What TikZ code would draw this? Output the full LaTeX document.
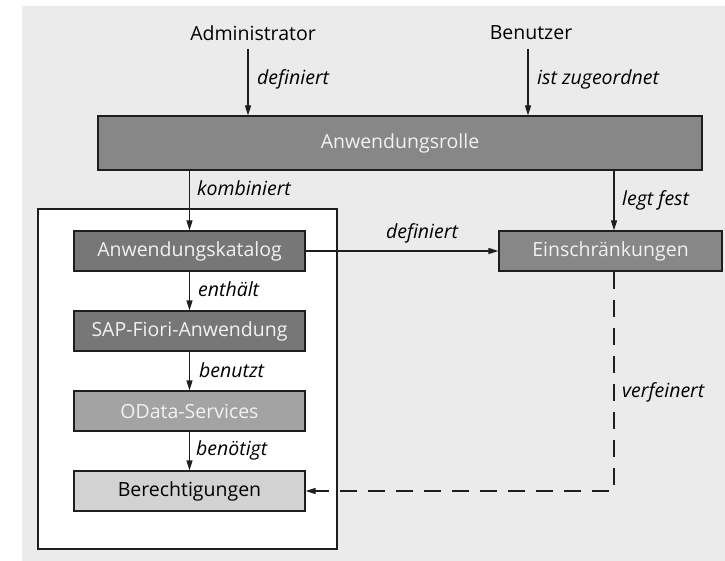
\documentclass[tikz,border=0pt]{standalone}
\usepackage{fontspec}
\setmainfont{Open Sans}
\usetikzlibrary{arrows.meta}
\definecolor{bg}{HTML}{EBEBEB}
\definecolor{boxA}{HTML}{878787}
\definecolor{boxB}{HTML}{777777}
\definecolor{boxC}{HTML}{A3A3A3}
\definecolor{boxD}{HTML}{D2D2D2}
\definecolor{ln}{HTML}{1E1E1E}
\definecolor{ltxt}{HTML}{F2F2F2}
\begin{document}
\begin{tikzpicture}[x=1pt,y=-1pt,
  every node/.style={font=\fontsize{19.5}{22}\selectfont},
  box/.style={draw=ln,line width=1.2pt,inner sep=0pt},
  lbl/.style={font=\fontsize{19.5}{22}\selectfont\itshape,inner sep=0pt,anchor=west},
  arr/.style={draw=ln,line width=1.2pt,-{Triangle[length=10pt,width=6pt]}},
  dsh/.style={arr,dash pattern=on 17pt off 11pt}]
\useasboundingbox (0,0) rectangle (725,561);
\fill[bg] (22,6) rectangle (725,561);
% group box
\node[box,fill=white,minimum width=299pt,minimum height=340pt] (group) at (187.5,379) {};
% boxes
\node[box,fill=boxA,text=ltxt,minimum width=604pt,minimum height=54pt] (rolle) at (400,143) {Anwendungsrolle};
\node[box,fill=boxB,text=ltxt,minimum width=231pt,minimum height=40pt] (katalog) at (189.5,251) {Anwendungskatalog};
\node[box,fill=boxB,text=ltxt,minimum width=231pt,minimum height=40pt] (fiori) at (189.5,331) {SAP-Fiori-Anwendung};
\node[box,fill=boxC,text=ltxt,minimum width=231pt,minimum height=40pt] (odata) at (189.5,411) {OData-Services};
\node[box,fill=boxD,text=black,minimum width=231pt,minimum height=40pt] (berecht) at (189.5,491) {Berechtigungen};
\node[box,fill=boxA,text=ltxt,minimum width=223pt,minimum height=40pt] (einschr) at (610.5,251) {Einschränkungen};
% actors
\node (admin) at (253,33) {Administrator};
\node (benutzer) at (531,33) {Benutzer};
\coordinate (a1) at (248,49);
\coordinate (b1) at (528,49);
\coordinate (lf) at (614,0);
% connectors
\draw[arr] (a1) -- (a1 |- rolle.north);
\draw[arr] (b1) -- (b1 |- rolle.north);
\draw[arr] (katalog.north |- rolle.south) -- (katalog.north);
\draw[arr] (lf |- rolle.south) -- (lf |- einschr.north);
\draw[arr] (katalog.east) -- (einschr.west);
\draw[arr] (katalog.south) -- (fiori.north);
\draw[arr] (fiori.south) -- (odata.north);
\draw[arr] (odata.south) -- (berecht.north);
\draw[dsh] (lf |- einschr.south) |- (berecht.east);
% labels
\node[lbl] (l1) at (257,79) {definiert};
\node[lbl] (l2) at (537,79) {ist zugeordnet};
\node[lbl] (l3) at (197,188) {kombiniert};
\node[lbl] (l4) at (622,200) {legt fest};
\node[lbl,anchor=center] (l5) at (422,233) {definiert};
\node[lbl] (l6) at (198,289) {enthält};
\node[lbl] (l7) at (199,370) {benutzt};
\node[lbl] (l8) at (196,450) {benötigt};
\node[lbl] (l9) at (622,392) {verfeinert};
\end{tikzpicture}
\end{document}
